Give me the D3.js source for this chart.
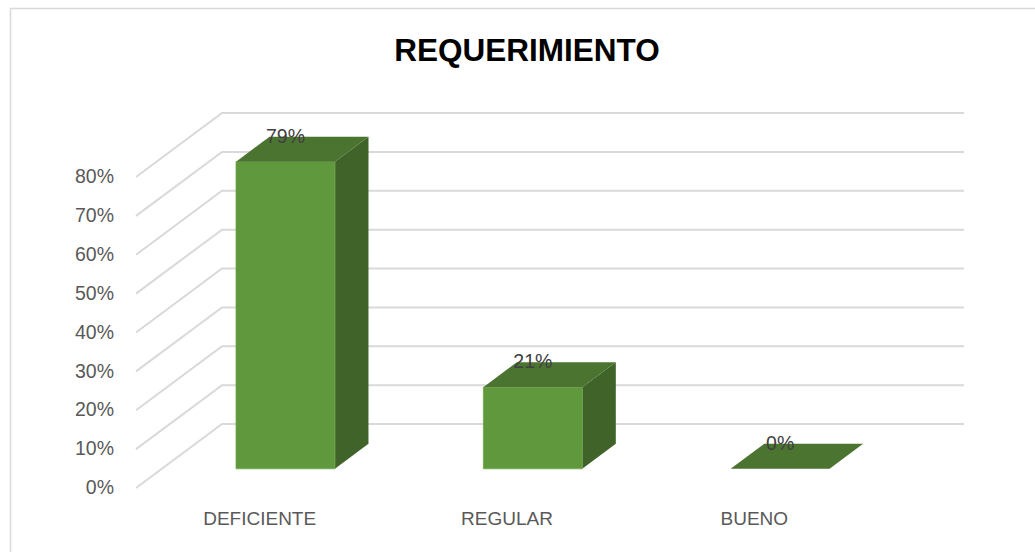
<!DOCTYPE html>
<html><head><meta charset="utf-8">
<script src="https://cdn.jsdelivr.net/npm/d3@7"></script>
<style>body{margin:0;background:#fff}svg{display:block}</style>
</head><body>
<script>
const title = "REQUERIMIENTO";
const categories = ["DEFICIENTE", "REGULAR", "BUENO"];
const values = [79, 21, 0];
const valueLabels = ["79%", "21%", "0%"];
const yTicks = [0, 10, 20, 30, 40, 50, 60, 70, 80];

const W = 1035, H = 552;
const svg = d3.select("body").append("svg").attr("width", W).attr("height", H);

// chart area border
svg.append("rect").attr("x", 10.5).attr("y", 8.5).attr("width", W + 20).attr("height", H + 20)
  .attr("fill", "none").attr("stroke", "#d9d9d9").attr("stroke-width", 1.5);

// 3D projection: front plane + depth offset
const depthDX = 86, depthDY = -64;
const x = d3.scaleBand().domain(categories).range([136, 878]).paddingInner(0).paddingOuter(0);
const y = d3.scaleLinear().domain([0, 80]).range([488, 177]);
const P = (px, v, z) => [px + z * depthDX, y(v) + z * depthDY];
const z0 = 0.30, z1 = 0.69;
const barW = x.bandwidth() / 2.5;

const gGrid = svg.append("g");
yTicks.forEach(t => {
  const a = P(136, t, 0), b = P(136, t, 1), c = P(878, t, 1);
  gGrid.append("path").attr("d", `M${a[0]},${a[1]}L${b[0]},${b[1]}L${c[0]},${c[1]}`)
    .attr("fill", "none").attr("stroke", "#d9d9d9").attr("stroke-width", 2);
});

// y axis labels
svg.append("g").selectAll("text").data(yTicks).join("text")
  .attr("x", 114).attr("y", d => y(d) + 1).attr("text-anchor", "end").attr("dominant-baseline", "middle")
  .attr("font-family", "Liberation Sans, Arial, sans-serif").attr("font-size", 19.5).attr("fill", "#595959")
  .text(d => d + "%");

// category labels
svg.append("g").selectAll("text").data(categories).join("text")
  .attr("x", d => x(d) + x.bandwidth() / 2).attr("y", 520).attr("text-anchor", "middle").attr("dominant-baseline", "middle")
  .attr("font-family", "Liberation Sans, Arial, sans-serif").attr("font-size", 19).attr("fill", "#595959")
  .text(d => d);

// bars
const poly = pts => "M" + pts.map(p => p.join(",")).join("L") + "Z";
const gBars = svg.append("g");
categories.forEach((c, i) => {
  const v = values[i];
  const xl = x(c) + (x.bandwidth() - barW) / 2, xr = xl + barW;
  const fbl = P(xl, 0, z0), fbr = P(xr, 0, z0), ftl = P(xl, v, z0), ftr = P(xr, v, z0);
  const bbr = P(xr, 0, z1), btl = P(xl, v, z1), btr = P(xr, v, z1);
  if (v > 0) {
    gBars.append("path").attr("d", poly([fbr, ftr, btr, bbr])).attr("fill", "#3f6329");
    gBars.append("path").attr("d", poly([fbl, fbr, ftr, ftl])).attr("fill", "#60983d")
      .attr("stroke", "#6ea84a").attr("stroke-width", 0.8);
  }
  gBars.append("path").attr("d", poly([ftl, ftr, btr, btl])).attr("fill", "#4b7430");
  // value label
  const lx = P(xl + barW / 2, v, z0)[0];
  const ly = P(xl + barW / 2, v, z1)[1];
  svg.append("text").attr("x", lx).attr("y", ly + 1)
    .attr("text-anchor", "middle").attr("dominant-baseline", "middle")
    .attr("font-family", "Liberation Sans, Arial, sans-serif").attr("font-size", 19.5).attr("fill", "#404040")
    .text(valueLabels[i]);
});

// title
svg.append("text").attr("x", 527).attr("y", 53).attr("text-anchor", "middle").attr("dominant-baseline", "middle")
  .attr("font-family", "Liberation Sans, Arial, sans-serif").attr("font-weight", "bold").attr("font-size", 31.5)
  .attr("fill", "#000").text(title);
</script>
</body></html>
